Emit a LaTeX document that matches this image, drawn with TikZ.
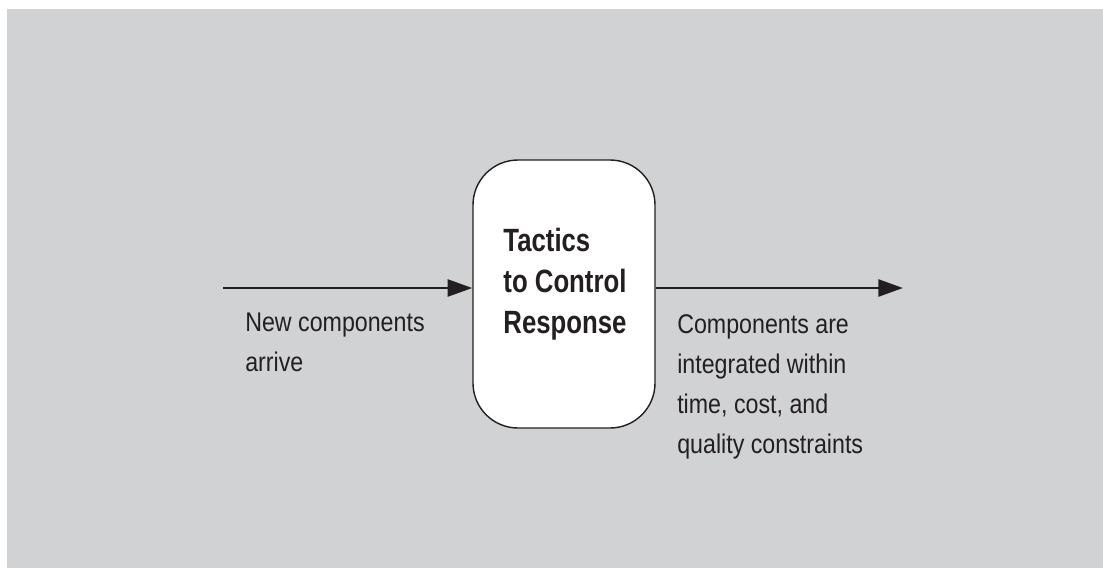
\documentclass[tikz,border=0pt]{standalone}
\usepackage{fontspec}
\setmainfont{Liberation Sans}[FakeStretch=0.86]
\newfontfamily\tacticsfont{Liberation Sans}[FakeStretch=0.80]
\usepackage{tikz}
\usetikzlibrary{arrows.meta, positioning}
\tikzset{>=stealth}
\usepackage{xcolor}
\definecolor{mygray}{HTML}{D1D2D4}
\definecolor{myink}{HTML}{231F20}
\tikzset{
	tacticbox/.style={draw=myink, line width=1pt, fill=white, rounded corners=32pt, minimum width=182*0.025cm, minimum height=268*0.025cm, inner sep=0pt},
	boxtext/.style={align=left, inner sep=0pt, text=myink, font=\tacticsfont\bfseries\fontsize{22.9}{29.2}\selectfont},
	flowtext/.style={align=left, inner sep=0pt, text=myink, font=\fontsize{19.2}{28.45}\selectfont},
	flow/.style={line width=2pt, color=myink, -{Triangle[length=17.5pt, width=12pt]}}
}

\begin{document}
\begin{tikzpicture}[x=0.025cm, y=-0.025cm]
			\useasboundingbox (0,0) rectangle (1103,568);
			\fill [mygray] (7,9) rectangle (1103,568);
			\node [tacticbox] (tactics) at (564,294) {};
			\node [boxtext, anchor=north] (tacticstext) at (565,228) {Tactics\\to Control\\Response};
			\coordinate (inleft) at (223,288);
			\coordinate (outright) at (903,288);
			\draw [flow] (inleft) -- (inleft -| tactics.west);
			\draw [flow] (tactics.east |- outright) -- (outright);
			\node [flowtext, anchor=north west] (arrive) at (245,313) {New components\\arrive};
			\node [flowtext, anchor=north west] (integrated) at (677,314) {Components are\\integrated within\\time, cost, and\\quality constraints};
		\end{tikzpicture}
\end{document}
